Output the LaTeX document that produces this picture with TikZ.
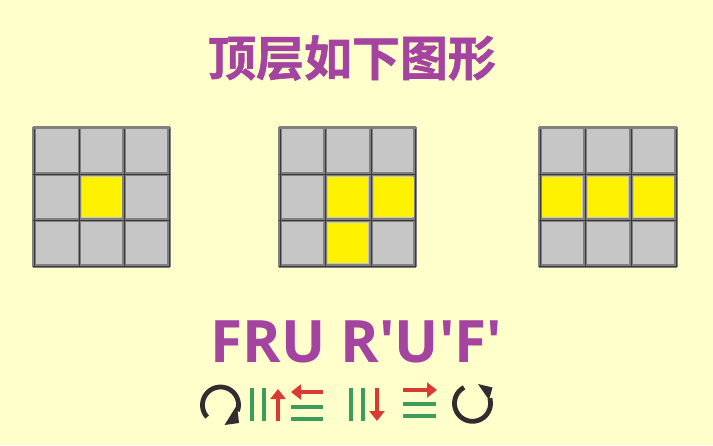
\documentclass[tikz,border=0pt]{standalone}
\usepackage{fontspec}
\newfontfamily\cjkbold[BoldFont={Noto Sans CJK SC Bold},BoldFeatures={FakeBold=1.2}]{Noto Sans CJK SC}
\newfontfamily\movefont{Open Sans}
\usetikzlibrary{arrows.meta}
\definecolor{bgc}{HTML}{FFFFCC}
\definecolor{cellgray}{HTML}{C6C6C6}
\definecolor{cubeyellow}{HTML}{FFF200}
\definecolor{gridhalo}{HTML}{808080}
\definecolor{gridline}{HTML}{3A3A3A}
\definecolor{titlepurple}{HTML}{A444A0}
\definecolor{movered}{HTML}{DB3A34}
\definecolor{movegreen}{HTML}{3C9C5C}
\definecolor{moveblack}{HTML}{2F2D30}
\tikzset{
  halostroke/.style={draw=gridhalo,line width=3.4pt},
  gridstroke/.style={draw=gridline,line width=1pt},
  yellowcell/.style={fill=cubeyellow},
  titletext/.style={text=titlepurple,font=\cjkbold\bfseries\fontsize{48}{48}\selectfont,inner sep=0},
  movetext/.style={text=titlepurple,font=\movefont\bfseries\fontsize{58.5}{58.5}\selectfont,inner sep=0},
  redarrow/.style={draw=movered,line width=3.8pt,-{Triangle[length=10pt,width=15pt]}},
  greenbar/.style={draw=movegreen,line width=3.8pt},
  turn/.style={draw=moveblack,line width=4.8pt},
  turntip/.style={fill=moveblack}
}
% #1..#4 vertical line x positions
\newcommand{\cubegrid}[4]{%
  \fill[cellgray] (#1,127.5) rectangle (#4,266);
  \foreach \gx in {#1,#2,#3,#4}{\draw[halostroke] (\gx,126.5) -- (\gx,267);}
  \foreach \gy in {127.5,174,220,266}{\draw[halostroke] (#1-1,\gy) -- (#4+1,\gy);}
  \foreach \gx in {#1,#2,#3,#4}{\draw[gridstroke] (\gx,129) -- (\gx,267);}
  \foreach \gy in {174,220,266}{\draw[gridstroke] (#1-1,\gy) -- (#4+1,\gy);}
}
\begin{document}
\begin{tikzpicture}[x=1pt,y=-1pt]
\useasboundingbox (0,0) rectangle (713,445);
\fill[bgc] (0,0) rectangle (713,445);
\node[titletext] (title) at (352,58) {顶层如下图形};
\cubegrid{34}{79.3}{124}{169}
\fill[yellowcell] (82,176.7) rectangle (122,217);
\cubegrid{280}{325}{371}{415}
\fill[yellowcell] (328.3,176.7) rectangle (368.3,217);
\fill[yellowcell] (374,176.7) rectangle (414,217);
\fill[yellowcell] (328.3,222.7) rectangle (368.3,262.7);
\cubegrid{540}{585}{631}{676}
\fill[yellowcell] (541.7,176.7) rectangle (582.3,217);
\fill[yellowcell] (588.3,176.7) rectangle (628.3,217);
\fill[yellowcell] (634,176.7) rectangle (674,217);
\node[movetext] (moves) at (356.5,342) {FRU R'U'F'};
% F
\draw[turn] plot[domain=222:-20,samples=40,smooth] ({220.5+18*cos(\x)},{405-18*sin(\x)});
\fill[turntip] (224.5,425) -- (239,423) -- (237,405) -- cycle;
% R
\draw[greenbar] (252,388) -- (252,421);
\draw[greenbar] (264,388) -- (264,421);
\coordinate (ua) at (278,421); \coordinate (ub) at (278,389);
\draw[redarrow] (ua) -- (ub);
% U
\coordinate (la) at (323,392); \coordinate (lb) at (291,392);
\draw[redarrow] (la) -- (lb);
\draw[greenbar] (291,407) -- (323,407);
\draw[greenbar] (291,419) -- (323,419);
% R'
\draw[greenbar] (351,388) -- (351,421);
\draw[greenbar] (363,388) -- (363,421);
\coordinate (da) at (377,388); \coordinate (db) at (377,421);
\draw[redarrow] (da) -- (db);
% U'
\coordinate (ra) at (403,390); \coordinate (rb) at (437,390);
\draw[redarrow] (ra) -- (rb);
\draw[greenbar] (403,404) -- (436,404);
\draw[greenbar] (403,416) -- (436,416);
% F'
\draw[turn] plot[domain=118:376,samples=40,smooth] ({472.5+18*cos(\x)},{403.3-18*sin(\x)});
\fill[turntip] (478,384) -- (492.5,387.5) -- (489,400) -- cycle;
\end{tikzpicture}
\end{document}
